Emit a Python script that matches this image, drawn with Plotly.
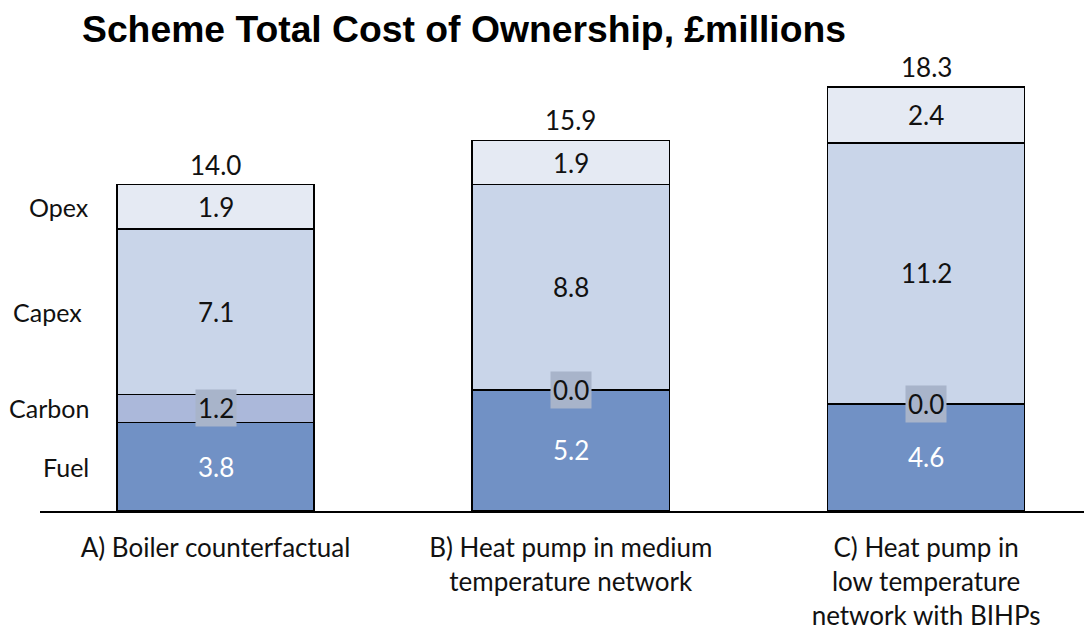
import plotly.graph_objects as go

# ---- data ----
categories = [
    "A) Boiler counterfactual",
    "B) Heat pump in medium<br>temperature network",
    "C) Heat pump in<br>low temperature<br>network with BIHPs",
]
components = ["Fuel", "Carbon", "Capex", "Opex"]
fuel = [3.8, 5.2, 4.6]
carbon = [1.2, 0.0, 0.0]
capex = [7.1, 8.8, 11.2]
opex = [1.9, 1.9, 2.4]
totals = [14.0, 15.9, 18.3]

series = {"Fuel": fuel, "Carbon": carbon, "Capex": capex, "Opex": opex}
colors = {"Fuel": "#7191c5", "Carbon": "#abb8da", "Capex": "#c9d5e9", "Opex": "#e5eaf3"}
label_colors = {"Fuel": "white", "Carbon": "#111111", "Capex": "#111111", "Opex": "#111111"}

FONT = "Lato"
FS = 26
xs = list(range(len(categories)))
BAR_W = 0.555

# page body has an 8px margin, so the figure is 8px smaller than the window
W, H = 1084, 623

fig = go.Figure()
for comp in components:
    fig.add_trace(go.Bar(
        x=xs, y=series[comp], name=comp, width=BAR_W,
        marker=dict(color=colors[comp], line=dict(color="black", width=1.5)),
        hoverinfo="skip",
    ))

annotations = []
for i in xs:
    base = 0.0
    for comp in components:
        v = series[comp][i]
        mid = base + v / 2
        ann = dict(x=i, y=mid, xref="x", yref="y", text=f"{v:.1f}", showarrow=False,
                   font=dict(family=FONT, size=FS, color=label_colors[comp]),
                   xanchor="center", yanchor="middle")
        if comp == "Carbon":
            ann.update(bgcolor="#a8b4ca", borderpad=2)
        annotations.append(ann)
        if i == 0:
            xshift = -7 if comp == "Capex" else 0
            annotations.append(dict(x=0.0485, y=mid, xref="paper", yref="y", text=comp,
                                    showarrow=False, xanchor="right", yanchor="middle",
                                    xshift=xshift,
                                    font=dict(family=FONT, size=25, color="#111111")))
        base += v
    annotations.append(dict(x=i, y=base, xref="x", yref="y", text=f"{totals[i]:.1f}",
                            showarrow=False, xanchor="center", yanchor="bottom", yshift=2,
                            font=dict(family=FONT, size=FS, color="#111111")))

fig.update_layout(
    width=W, height=H,
    margin=dict(l=32, r=0, t=32, b=120, autoexpand=False),
    paper_bgcolor="white", plot_bgcolor="white",
    barmode="stack", showlegend=False,
    title=dict(text="<b>Scheme Total Cost of Ownership, £millions</b>",
               x=74 / W, xanchor="left", xref="container",
               y=1 - 21 / H, yanchor="middle", yref="container",
               font=dict(family="Liberation Sans", size=37.3, color="black")),
    annotations=annotations,
    xaxis=dict(range=[-0.494, 2.467], tickvals=xs, ticktext=categories,
               showline=True, linecolor="black", linewidth=1.5, ticks="",
               showgrid=False, zeroline=False, ticklabelstandoff=13, automargin=False,
               tickfont=dict(family=FONT, size=FS, color="#111111")),
    yaxis=dict(range=[0, 20.21], visible=False, showgrid=False, zeroline=False,
               automargin=False),
)

fig.write_html("out.html")
